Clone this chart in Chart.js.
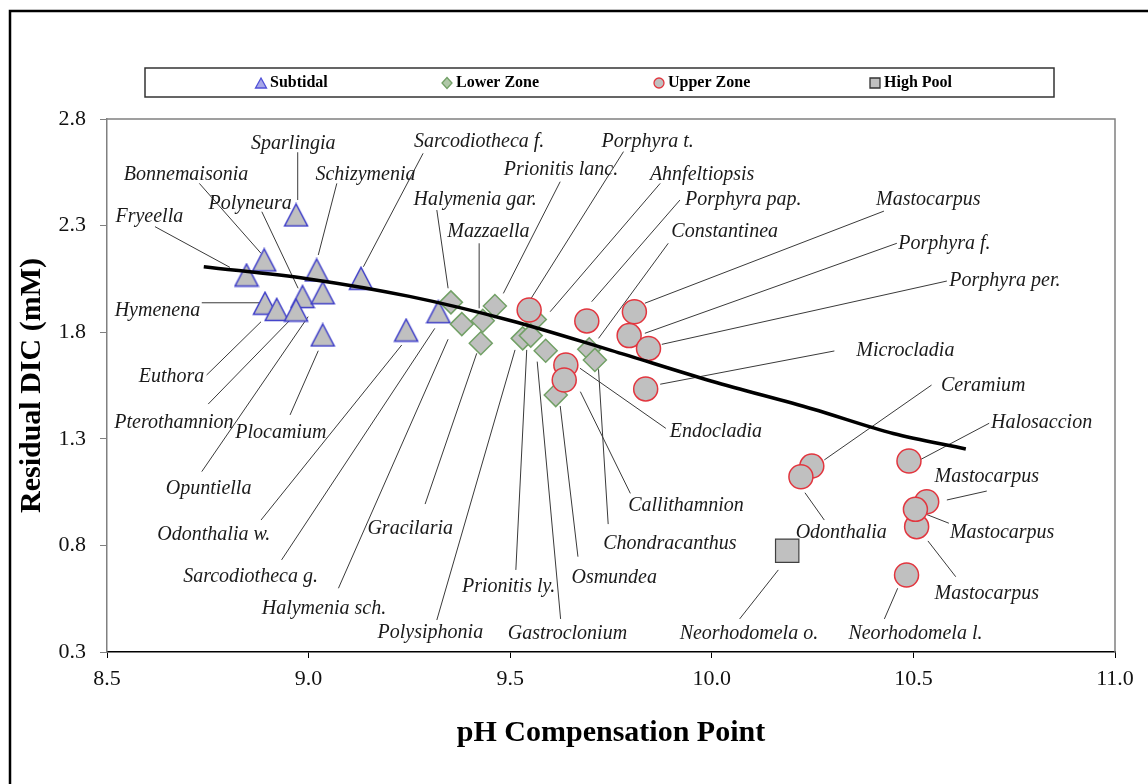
<!DOCTYPE html>
<html>
<head>
<meta charset="utf-8">
<script src="https://cdn.jsdelivr.net/npm/chart.js@4.4.1/dist/chart.umd.min.js"></script>
<style>
  html, body { margin: 0; padding: 0; background: #fff; }
  #wrap { width: 1148px; height: 784px; }
</style>
</head>
<body>
<div id="wrap"><canvas id="dicChart" width="1148" height="784"></canvas></div>
<script>
// pH compensation point vs residual DIC, by zone
const subtidalPH  = [8.969, 8.890, 8.846, 9.020, 9.130, 8.985, 9.035, 8.892, 8.921, 8.969, 9.035, 9.242, 9.322];
const subtidalDIC = [2.350, 2.139, 2.068, 2.092, 2.053, 1.967, 1.985, 1.936, 1.907, 1.904, 1.787, 1.810, 1.896];

const lowerPH  = [9.353, 9.380, 9.432, 9.462, 9.427, 9.561, 9.531, 9.551, 9.588, 9.696, 9.710, 9.613];
const lowerDIC = [1.940, 1.838, 1.854, 1.923, 1.748, 1.860, 1.771, 1.784, 1.713, 1.720, 1.670, 1.505];

const upperPH  = [9.547, 9.690, 9.808, 9.795, 9.843, 9.836, 9.638, 9.634, 10.248, 10.221, 10.489, 10.508, 10.533, 10.505, 10.483];
const upperDIC = [1.904, 1.853, 1.896, 1.784, 1.724, 1.534, 1.646, 1.576, 1.172, 1.122, 1.196, 0.888, 1.005, 0.969, 0.661];

const highPoolPH  = [10.187];
const highPoolDIC = [0.775];

// fitted curve as drawn in the figure
const trendPH  = [8.74, 9.00, 9.25, 9.50, 9.75, 10.00, 10.25, 10.45, 10.63];
const trendDIC = [2.107, 2.050, 1.968, 1.855, 1.715, 1.570, 1.440, 1.325, 1.252];

const xTicks = [8.5, 9.0, 9.5, 10.0, 10.5, 11.0];
const yTicks = [0.3, 0.8, 1.3, 1.8, 2.3, 2.8];

const seriesNames = ['Subtidal', 'Lower Zone', 'Upper Zone', 'High Pool'];

// species labels: text, label position [pH, DIC], leader line [pH1, DIC1, pH2, DIC2]
const callouts = [
  ['Sparlingia',        [8.962, 2.686], [8.973, 2.644, 8.973, 2.420]],
  ['Bonnemaisonia',     [8.696, 2.537], [8.729, 2.498, 8.882, 2.170]],
  ['Schizymenia',       [9.141, 2.537], [9.070, 2.498, 9.024, 2.162]],
  ['Polyneura',         [8.855, 2.401], [8.884, 2.365, 8.974, 2.006]],
  ['Fryeella',          [8.605, 2.342], [8.619, 2.295, 8.805, 2.104]],
  ['Hymenena',          [8.625, 1.901], [8.735, 1.938, 8.888, 1.938]],
  ['Euthora',           [8.660, 1.591], [8.747, 1.599, 8.882, 1.849]],
  ['Pterothamnion',     [8.666, 1.373], [8.751, 1.463, 8.954, 1.857]],
  ['Plocamium',         [8.931, 1.330], [8.954, 1.412, 9.024, 1.713]],
  ['Opuntiella',        [8.752, 1.068], [8.735, 1.146, 8.999, 1.873]],
  ['Odonthalia w.',     [8.765, 0.849], [8.882, 0.919, 9.231, 1.740]],
  ['Sarcodiotheca g.',  [8.856, 0.653], [8.933, 0.732, 9.313, 1.818]],
  ['Halymenia sch.',    [9.038, 0.505], [9.074, 0.599, 9.346, 1.767]],
  ['Gracilaria',        [9.252, 0.876], [9.289, 0.994, 9.417, 1.701]],
  ['Polysiphonia',      [9.302, 0.388], [9.318, 0.450, 9.512, 1.717]],
  ['Sarcodiotheca f.',  [9.423, 2.694], [9.284, 2.639, 9.136, 2.107]],
  ['Halymenia gar.',    [9.413, 2.420], [9.318, 2.373, 9.346, 2.006]],
  ['Mazzaella',         [9.446, 2.269], [9.423, 2.217, 9.423, 1.912]],
  ['Prionitis lanc.',   [9.626, 2.561], [9.624, 2.506, 9.483, 1.982]],
  ['Porphyra t.',       [9.841, 2.694], [9.781, 2.647, 9.545, 1.938]],
  ['Ahnfeltiopsis',     [9.976, 2.537], [9.872, 2.498, 9.599, 1.896]],
  ['Porphyra pap.',     [10.078, 2.420], [9.921, 2.420, 9.702, 1.943]],
  ['Constantinea',      [10.032, 2.271], [9.892, 2.217, 9.719, 1.771]],
  ['Mastocarpus',       [10.537, 2.420], [10.427, 2.368, 9.834, 1.936]],
  ['Porphyra f.',       [10.577, 2.217], [10.459, 2.217, 9.834, 1.795]],
  ['Porphyra per.',     [10.727, 2.040], [10.583, 2.040, 9.876, 1.743]],
  ['Microcladia',       [10.480, 1.712], [10.304, 1.712, 9.872, 1.556]],
  ['Endocladia',        [10.010, 1.333], [9.886, 1.349, 9.673, 1.631]],
  ['Ceramium',          [10.673, 1.549], [10.545, 1.552, 10.279, 1.201]],
  ['Halosaccion',       [10.818, 1.373], [10.688, 1.373, 10.516, 1.201]],
  ['Mastocarpus',       [10.682, 1.122], [10.682, 1.055, 10.583, 1.013]],
  ['Mastocarpus',       [10.720, 0.857], [10.588, 0.904, 10.522, 0.953]],
  ['Mastocarpus',       [10.682, 0.575], [10.605, 0.653, 10.536, 0.821]],
  ['Odonthalia',        [10.321, 0.857], [10.279, 0.919, 10.231, 1.047]],
  ['Neorhodomela l.',   [10.505, 0.384], [10.428, 0.455, 10.461, 0.599]],
  ['Neorhodomela o.',   [10.092, 0.384], [10.069, 0.455, 10.165, 0.685]],
  ['Callithamnion',     [9.936, 0.985], [9.798, 1.044, 9.674, 1.521]],
  ['Chondracanthus',    [9.896, 0.810], [9.743, 0.900, 9.719, 1.626]],
  ['Osmundea',          [9.758, 0.650], [9.668, 0.747, 9.624, 1.454]],
  ['Gastroclonium',     [9.642, 0.384], [9.625, 0.455, 9.567, 1.662]],
  ['Prionitis ly.',     [9.496, 0.604], [9.514, 0.685, 9.541, 1.717]]
];

const FILL = '#c0c0c0';
const BLUE = '#3c3cc8';
const GREEN = '#72a066';
const RED = '#e2363f';
const SERIF = '"Liberation Serif", "Times New Roman", serif';

const pairs = (xs, ys) => xs.map((x, i) => ({x: x, y: ys[i]}));

function triangleImage(){
    const c = document.createElement('canvas');
    c.width = 26; c.height = 25;
    const g = c.getContext('2d');
    g.beginPath();
    g.moveTo(13, 1.5); g.lineTo(24.5, 23.5); g.lineTo(1.5, 23.5); g.closePath();
    g.fillStyle = FILL; g.fill();
    g.lineWidth = 1.5; g.strokeStyle = BLUE; g.stroke();
    return c;
}

function legendIcon(ctx, kind, x, y){
    ctx.save();
    ctx.beginPath();
    if (kind === 0){
        ctx.moveTo(x, y - 5); ctx.lineTo(x + 5.5, y + 5); ctx.lineTo(x - 5.5, y + 5); ctx.closePath();
        ctx.fillStyle = '#a8a8e8'; ctx.strokeStyle = '#5050d8';
    } else if (kind === 1){
        ctx.moveTo(x, y - 5.5); ctx.lineTo(x + 5, y); ctx.lineTo(x, y + 5.5); ctx.lineTo(x - 5, y); ctx.closePath();
        ctx.fillStyle = '#b0c8a8'; ctx.strokeStyle = GREEN;
    } else if (kind === 2){
        ctx.arc(x, y, 5, 0, Math.PI * 2);
        ctx.fillStyle = FILL; ctx.strokeStyle = RED;
    } else {
        ctx.rect(x - 5, y - 5, 10, 10);
        ctx.fillStyle = FILL; ctx.strokeStyle = '#333';
    }
    ctx.fill();
    ctx.lineWidth = 1.3;
    ctx.stroke();
    ctx.restore();
}

const decor = {
    id: 'decor',
    beforeDraw(chart){
        const ctx = chart.ctx;
        ctx.save();
        ctx.fillStyle = '#fff';
        ctx.fillRect(0, 0, chart.width, chart.height);
        ctx.restore();
    },
    beforeDatasetsDraw(chart){
        const {ctx, scales: {x, y}} = chart;
        ctx.save();
        ctx.strokeStyle = '#3a3a3a';
        ctx.lineWidth = 1;
        callouts.forEach(c => {
            const l = c[2];
            ctx.beginPath();
            ctx.moveTo(x.getPixelForValue(l[0]), y.getPixelForValue(l[1]));
            ctx.lineTo(x.getPixelForValue(l[2]), y.getPixelForValue(l[3]));
            ctx.stroke();
        });
        ctx.restore();
    },
    afterDraw(chart){
        const {ctx, chartArea: a, scales: {x, y}} = chart;
        ctx.save();
        // outer frame
        ctx.strokeStyle = '#000';
        ctx.lineWidth = 2.5;
        ctx.strokeRect(10, 11, chart.width + 20, chart.height + 20);
        // plot top / right edge
        ctx.strokeStyle = '#808080';
        ctx.lineWidth = 1.5;
        ctx.beginPath();
        ctx.moveTo(a.left, a.top); ctx.lineTo(a.right, a.top); ctx.lineTo(a.right, a.bottom);
        ctx.stroke();
        // legend box
        ctx.strokeStyle = '#333';
        ctx.lineWidth = 1.5;
        ctx.strokeRect(145, 68, 909, 29);
        const iconX = [261, 447, 659, 875];
        ctx.font = 'bold 16px ' + SERIF;
        ctx.fillStyle = '#000';
        ctx.textBaseline = 'middle';
        ctx.textAlign = 'left';
        seriesNames.forEach((n, i) => {
            legendIcon(ctx, i, iconX[i], 83);
            ctx.fillText(n, iconX[i] + 9, 83);
        });
        // species labels
        ctx.font = 'italic 20px ' + SERIF;
        ctx.fillStyle = '#1a1a1a';
        ctx.textAlign = 'center';
        callouts.forEach(c => {
            ctx.fillText(c[0], x.getPixelForValue(c[1][0]), y.getPixelForValue(c[1][1]));
        });
        ctx.restore();
    }
};

new Chart(document.getElementById('dicChart'), {
    type: 'scatter',
    data: {
        datasets: [
            {
                label: 'trend',
                data: pairs(trendPH, trendDIC),
                showLine: true,
                borderColor: '#000',
                borderWidth: 3.5,
                pointRadius: 0,
                tension: 0.4,
                cubicInterpolationMode: 'monotone',
                order: 0
            },
            {
                label: seriesNames[3],
                data: pairs(highPoolPH, highPoolDIC),
                pointStyle: 'rect',
                pointRadius: 16.5,
                backgroundColor: FILL,
                borderColor: '#404040',
                borderWidth: 1.2,
                order: 1
            },
            {
                label: seriesNames[2],
                data: pairs(upperPH, upperDIC),
                pointStyle: 'circle',
                pointRadius: 12,
                backgroundColor: FILL,
                borderColor: RED,
                borderWidth: 1.5,
                order: 2
            },
            {
                label: seriesNames[1],
                data: pairs(lowerPH, lowerDIC),
                pointStyle: 'rectRot',
                pointRadius: 11.5,
                backgroundColor: FILL,
                borderColor: GREEN,
                borderWidth: 1.5,
                order: 3
            },
            {
                label: seriesNames[0],
                data: pairs(subtidalPH, subtidalDIC),
                pointStyle: triangleImage(),
                pointRadius: 12,
                order: 4
            }
        ]
    },
    options: {
        responsive: false,
        animation: false,
        devicePixelRatio: 1,
        layout: { padding: { top: 119, right: 33, left: 0, bottom: 0 } },
        plugins: {
            legend: { display: false },
            tooltip: { enabled: false }
        },
        scales: {
            x: {
                type: 'linear',
                min: 8.5,
                max: 11.0,
                afterBuildTicks: s => { s.ticks = xTicks.map(v => ({value: v})); },
                afterFit: s => { s.height = 132; },
                ticks: {
                    callback: v => Number(v).toFixed(1),
                    font: { family: SERIF, size: 22 },
                    color: '#111',
                    padding: 8
                },
                grid: { drawOnChartArea: false, drawTicks: true, tickLength: 6, color: '#000' },
                border: { color: '#000', width: 1.5 },
                title: {
                    display: true,
                    text: 'pH Compensation Point',
                    font: { family: SERIF, size: 30, weight: 'bold' },
                    color: '#000',
                    padding: { top: 0, bottom: 33 }
                }
            },
            y: {
                type: 'linear',
                min: 0.3,
                max: 2.8,
                afterBuildTicks: s => { s.ticks = yTicks.map(v => ({value: v})); },
                afterFit: s => { s.width = 107; },
                ticks: {
                    callback: v => Number(v).toFixed(1),
                    font: { family: SERIF, size: 22 },
                    color: '#111',
                    padding: 14
                },
                grid: { drawOnChartArea: false, drawTicks: true, tickLength: 7, color: '#808080' },
                border: { color: '#808080', width: 1.5 },
                title: {
                    display: true,
                    text: 'Residual DIC (mM)',
                    font: { family: SERIF, size: 30, weight: 'bold' },
                    color: '#000',
                    padding: { top: 14, bottom: 0 }
                }
            }
        }
    },
    plugins: [decor]
});
</script>
</body>
</html>
